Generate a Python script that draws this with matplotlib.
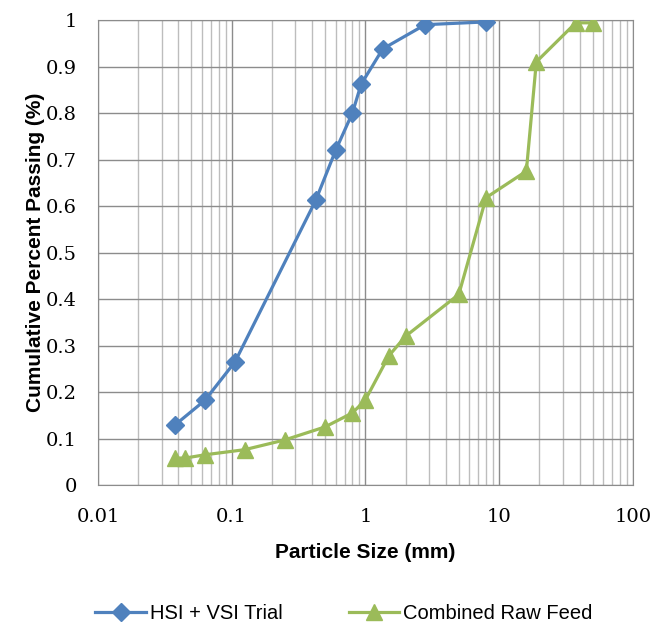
import matplotlib
matplotlib.use("Agg")
import matplotlib.pyplot as plt
from matplotlib.ticker import LogLocator, FixedLocator, NullFormatter, FixedFormatter

# sieve data
hsi_size = [0.038, 0.063, 0.106, 0.425, 0.6, 0.8, 0.93, 1.35, 2.8, 8.0]
hsi_pass = [0.13, 0.182, 0.265, 0.612, 0.72, 0.80, 0.862, 0.938, 0.99, 0.996]

raw_size = [0.038, 0.045, 0.063, 0.125, 0.25, 0.5, 0.8, 1.0, 1.5, 2.0, 5.0, 8.0, 16.0, 19.0, 37.5, 50.0]
raw_pass = [0.058, 0.058, 0.065, 0.076, 0.097, 0.125, 0.155, 0.183, 0.278, 0.32, 0.41, 0.618, 0.675, 0.91, 0.994, 0.994]

x_ticks = [0.01, 0.1, 1, 10, 100]
x_tick_labels = ["0.01", "0.1", "1", "10", "100"]
y_ticks = [0, 0.1, 0.2, 0.3, 0.4, 0.5, 0.6, 0.7, 0.8, 0.9, 1.0]
y_tick_labels = ["0", "0.1", "0.2", "0.3", "0.4", "0.5", "0.6", "0.7", "0.8", "0.9", "1"]

blue = "#4F81BD"
green = "#9BBB59"
tick_font = "DejaVu Serif"
label_font = "Liberation Sans"

fig = plt.figure(figsize=(6.53, 6.26), dpi=100)
ax = fig.add_axes([0.150, 0.2252, 0.819, 0.7428])

ax.plot(hsi_size, hsi_pass, color=blue, lw=2.3, marker="D", ms=9.5,
        label="HSI + VSI Trial", zorder=3)
ax.plot(raw_size, raw_pass, color=green, lw=2.3, marker="^", ms=12,
        label="Combined Raw Feed", zorder=3)

ax.set_xscale("log")
ax.set_xlim(0.01, 100)
ax.set_ylim(0, 1)

ax.xaxis.set_major_locator(FixedLocator(x_ticks))
ax.xaxis.set_major_formatter(FixedFormatter(x_tick_labels))
ax.xaxis.set_minor_locator(LogLocator(base=10, subs=range(2, 10), numticks=20))
ax.xaxis.set_minor_formatter(NullFormatter())
ax.set_yticks(y_ticks)
ax.set_yticklabels(y_tick_labels)

ax.grid(which="major", color="#8c8c8c", lw=1.0)
ax.grid(which="minor", axis="x", color="#bdbdbd", lw=1.0)
ax.set_axisbelow(True)
for s in ax.spines.values():
    s.set_color("#8c8c8c")
ax.tick_params(which="both", length=0)
ax.tick_params(axis="x", pad=16.5)
ax.tick_params(axis="y", pad=15)
for lab in ax.get_xticklabels() + ax.get_yticklabels():
    lab.set_fontfamily(tick_font)
    lab.set_fontsize(14)

ax.set_xlabel("Particle Size (mm)", fontsize=15, fontweight="bold",
              fontfamily=label_font)
ax.set_ylabel("Cumulative Percent Passing (%)", fontsize=15, fontweight="bold",
              fontfamily=label_font)
ax.xaxis.set_label_coords(0.5, -0.125)
ax.yaxis.set_label_coords(-0.099, 0.5)

fig.legend(loc="center", bbox_to_anchor=(0.527, 0.02), ncol=2, frameon=False,
           prop={"family": label_font, "size": 14.5}, handlelength=2.5,
           handletextpad=0.2, columnspacing=3.3)

fig.savefig("out.png", dpi=100)
